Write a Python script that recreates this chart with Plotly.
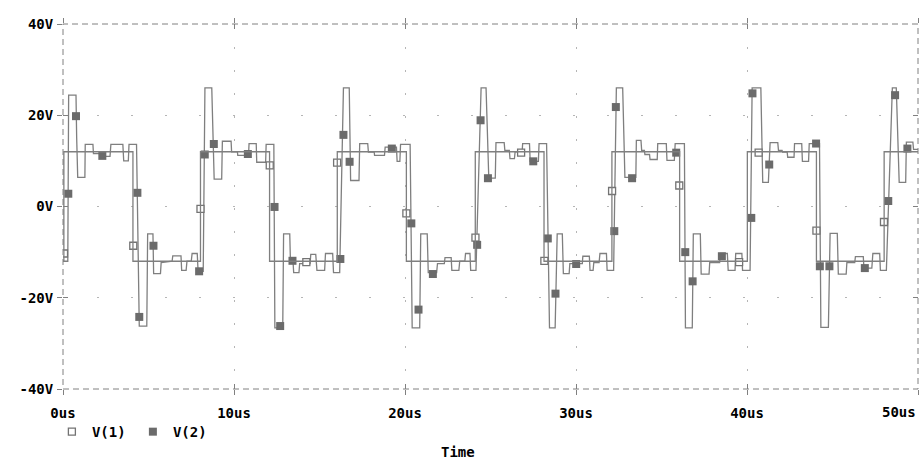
import plotly.graph_objects as go

# ---------------- data ----------------
time_ticks = [0, 10, 20, 30, 40, 50]
time_tick_labels = ["0us", "10us", "20us", "30us", "40us", "50us"]
volt_ticks = [-40, -20, 0, 20, 40]
volt_tick_labels = ["-40V", "-20V", "0V", "20V", "40V"]

# V(1): square wave, step points (value holds until next time)
v1_time = [0.0, 0.05, 4.09, 8.04, 12.08, 16.04, 20.08, 24.11, 28.13, 32.10, 36.06, 40.02, 44.06, 48.02, 50.0]
v1_volts = [-12, 12, -12, 12, -12, 12, -12, 12, -12, 12, -12, 12, -12, 12, 12]

# V(2): ringing waveform, corner points
v2_time = [
    0.0, 0.28, 0.33, 0.76, 0.80, 0.86, 1.28, 1.30, 1.75, 1.78, 2.20, 2.23, 2.75, 2.80, 3.50, 3.55, 3.82, 3.86, 4.30,
    4.46, 4.90, 4.95, 5.26, 5.30, 5.70, 5.74, 6.38, 6.42, 6.90, 6.94, 7.20, 7.25, 7.50, 7.55, 7.85, 7.90, 8.20,
    8.30, 8.70, 8.80, 8.84, 9.28, 9.32, 9.83, 9.86, 10.20, 10.22, 10.85, 10.88, 11.30, 11.33, 11.85, 11.88, 12.33,
    12.39, 12.85, 12.90, 13.26, 13.30, 13.45, 13.49, 13.80, 13.84, 14.45, 14.49, 14.78, 14.85, 15.30, 15.35, 15.77, 15.82, 16.18,
    16.40, 16.74, 16.78, 16.82, 17.31, 17.35, 17.82, 17.86, 18.20, 18.22, 18.80, 18.84, 19.50, 19.54, 19.70, 19.74, 20.30,
    20.42, 20.86, 20.92, 21.30, 21.36, 21.85, 21.90, 22.30, 22.34, 22.70, 22.74, 23.15, 23.20, 23.50, 23.54, 23.80, 23.84, 24.15,
    24.45, 24.74, 24.82, 24.90, 25.28, 25.32, 25.80, 25.84, 26.10, 26.14, 26.40, 26.44, 26.85, 26.88, 27.28, 27.32, 27.80, 27.84, 28.28,
    28.45, 28.78, 28.90, 29.20, 29.26, 29.60, 29.64, 30.37, 30.40, 30.78, 30.82, 31.00, 31.04, 31.35, 31.40, 31.78, 31.82, 32.20,
    32.36, 32.73, 32.82, 32.86, 33.50, 33.53, 33.80, 33.84, 34.00, 34.03, 34.30, 34.33, 34.75, 34.78, 35.28, 35.32, 35.75, 35.80, 36.34,
    36.40, 36.80, 36.86, 37.27, 37.32, 37.78, 37.82, 38.40, 38.44, 38.85, 38.90, 39.30, 39.34, 39.70, 39.74, 40.18,
    40.30, 40.81, 40.88, 40.92, 41.25, 41.35, 41.80, 41.84, 42.05, 42.08, 42.35, 42.38, 42.75, 42.78, 43.20, 43.24, 43.60, 43.64, 44.24,
    44.32, 44.76, 44.86, 45.28, 45.34, 45.80, 45.84, 46.30, 46.34, 46.80, 46.84, 47.30, 47.36, 47.76, 47.80, 48.15,
    48.50, 48.73, 48.82, 48.90, 49.28, 49.32, 49.70, 49.74, 50.0,
]
v2_volts = [
    -12, -12, 24.4, 24.4, 15, 6.4, 6.4, 13.6, 13.6, 11.6, 11.6, 11.0, 11.0, 13.6, 13.6, 10.0, 10.0, 13.6, 13.6,
    -26.2, -26.2, -6, -6, -14.7, -14.7, -12.3, -12.0, -10.8, -10.8, -14, -14, -12, -12, -10.3, -10.3, -14.2, -14.2,
    26, 26, 15, 6, 6, 14.3, 14.3, 12, 12, 11.2, 11.2, 13.8, 13.8, 9.7, 9.7, 13.6, 13.6,
    -26.6, -26.6, -6, -6, -12, -12, -14.5, -14.5, -12.5, -12.5, -10.5, -10.5, -14, -14, -10.3, -10.3, -14.5, -14.5,
    26, 26, 15, 5.7, 5.7, 13.8, 13.8, 11.9, 11.9, 11.2, 11.2, 13.0, 13.0, 9.9, 9.9, 13.6, 13.6,
    -26.6, -26.6, -6, -6, -14.5, -14.5, -12.5, -12.5, -11.2, -11.2, -14, -14, -12, -12, -10.3, -10.3, -14, -14,
    26, 26, 15, 6.2, 6.2, 14, 14, 12.3, 12.3, 10.5, 10.5, 12, 12, 13.8, 13.8, 9.9, 9.9, 13.8, 13.8,
    -26.6, -26.6, -6, -6, -14.7, -14.7, -12.5, -12.5, -10.9, -10.9, -14, -14, -12.3, -12.3, -10.3, -10.3, -14, -14,
    26, 26, 15, 6.4, 6.4, 14.5, 14.5, 12.3, 12.3, 11.4, 11.4, 10.3, 10.3, 13.8, 13.8, 10.1, 10.1, 13.8, 13.8,
    -26.6, -26.6, -6, -6, -14.8, -14.8, -12.3, -12.3, -10.3, -10.3, -14, -14, -10.3, -10.3, -14, -14,
    26, 26, 15, 5.3, 5.3, 14, 14, 12.3, 12.3, 11.9, 11.9, 10.8, 10.8, 13.8, 13.8, 9.9, 9.9, 13.8, 13.8,
    -26.5, -26.5, -5.9, -5.9, -14.8, -14.8, -12.3, -12.3, -11, -11, -13.5, -13.5, -10.3, -10.3, -14, -14,
    26, 26, 15, 5.3, 5.3, 14.1, 14.1, 12.5, 12.5,
]

# marker positions along each trace
v1_mark_time = [0.06, 4.11, 8.04, 12.09, 14.23, 16.03, 20.08, 24.12, 26.79, 28.15, 32.11, 36.04, 39.54, 40.68, 44.06, 48.01]
v1_mark_volts = [-10.3, -8.6, -0.5, 9.0, -12.2, 9.6, -1.5, -6.8, 11.8, -11.9, 3.4, 4.6, -12.2, 11.8, -5.3, -3.4]

v2_mark_time = [0.31, 0.76, 2.30, 4.35, 4.46, 5.29, 7.96, 8.29, 8.82, 10.81, 12.37, 12.70, 13.42,
                16.22, 16.40, 16.76, 19.23, 20.37, 20.79, 21.63, 24.22, 24.42, 24.85, 27.50,
                28.35, 28.80, 30.01, 32.24, 32.33, 33.28, 35.86, 36.39, 36.82, 38.53,
                40.25, 40.32, 41.30, 44.04, 44.26, 44.82, 46.89, 48.26, 48.66, 49.38]
v2_mark_volts = [2.8, 19.8, 11.1, 3.0, -24.2, -8.6, -14.2, 11.4, 13.7, 11.5, -0.1, -26.2, -11.9,
                 -11.5, 15.7, 9.8, 12.7, -3.7, -22.6, -14.8, -8.4, 18.9, 6.2, 9.9,
                 -7.0, -19.1, -12.6, -5.4, 21.8, 6.2, 11.8, -10.0, -16.4, -10.9,
                 -2.5, 24.8, 9.2, 13.8, -13.1, -13.1, -13.5, 1.2, 24.4, 12.7]

# ---------------- styling ----------------
TRACE = "#7f7f7f"
MONO = "DejaVu Sans Mono"
label_font = dict(family=MONO, size=14, color="black", weight="bold")

fig = go.Figure()
fig.add_trace(go.Scatter(x=v1_time, y=v1_volts, mode="lines", xaxis="x2", yaxis="y2",
                         line=dict(color=TRACE, width=1.3, shape="hv"), showlegend=False, hoverinfo="skip"))
fig.add_trace(go.Scatter(x=v2_time, y=v2_volts, mode="lines",
                         line=dict(color=TRACE, width=1.3), showlegend=False, hoverinfo="skip"))
fig.add_trace(go.Scatter(x=v1_mark_time, y=v1_mark_volts, mode="markers", name="V(1)",
                         marker=dict(symbol="square", size=7, color="white", line=dict(color="#737373", width=1.3))))
fig.add_trace(go.Scatter(x=v2_mark_time, y=v2_mark_volts, mode="markers", name="V(2)",
                         marker=dict(symbol="square", size=8, color="#6b6b6b", line=dict(width=0))))

common_x = dict(range=[0, 50], tickvals=time_ticks, zeroline=False, tickcolor="#808080", ticklen=5, tickwidth=1)
common_y = dict(range=[-40, 40], tickvals=volt_ticks, zeroline=False, tickcolor="#808080", ticklen=5, tickwidth=1)

fig.update_layout(
    width=919, height=459,
    margin=dict(l=63, r=1, t=24, b=70, autoexpand=False),
    paper_bgcolor="white", plot_bgcolor="white",
    xaxis=dict(**common_x, ticktext=time_tick_labels[:-1] + [""], tickfont=label_font,
               ticks="outside", showgrid=True, gridcolor="#b5b5b5", griddash="2px,21px", gridwidth=1,
               showline=True, linecolor="rgba(0,0,0,0)", mirror="ticks", ticklabelstandoff=6,
               automargin=False),
    yaxis=dict(**common_y, ticktext=volt_tick_labels, tickfont=label_font,
               ticks="outside", showgrid=True, gridcolor="#b5b5b5", griddash="2px,32px", gridwidth=1,
               showline=True, linecolor="rgba(0,0,0,0)", mirror="ticks", ticklabelstandoff=1,
               automargin=False),
    xaxis2=dict(**common_x, overlaying="x", matches="x", ticks="inside", showticklabels=False,
                showgrid=False, showline=True, linecolor="rgba(0,0,0,0)", mirror="ticks", automargin=False),
    yaxis2=dict(**common_y, overlaying="y", matches="y", ticks="inside", showticklabels=False,
                showgrid=False, showline=True, linecolor="rgba(0,0,0,0)", mirror="ticks", automargin=False),
    legend=dict(orientation="h", x=-0.013, xanchor="left", y=-0.118, yanchor="middle",
                font=dict(family=MONO, size=14, color="black", weight="bold"),
                bgcolor="rgba(0,0,0,0)", entrywidth=36, entrywidthmode="pixels"),
    showlegend=True,
    shapes=[dict(type="rect", xref="paper", yref="paper", x0=0, x1=1, y0=0, y1=1,
                 line=dict(color="#808080", width=1, dash="6px,4px"), layer="below")],
    annotations=[
        dict(x=time_ticks[-1], xref="x", y=0, yref="paper", text=time_tick_labels[-1],
             xanchor="right", yanchor="top", yshift=-13, showarrow=False, font=label_font),
        dict(x=0.462, xref="paper", y=-0.173, yref="paper", text="Time",
             xanchor="center", yanchor="middle", showarrow=False, font=label_font),
    ],
)

fig.write_html("out.html", config={"displayModeBar": False},
               post_script="document.body.style.margin='0px';document.body.style.overflow='hidden';")
